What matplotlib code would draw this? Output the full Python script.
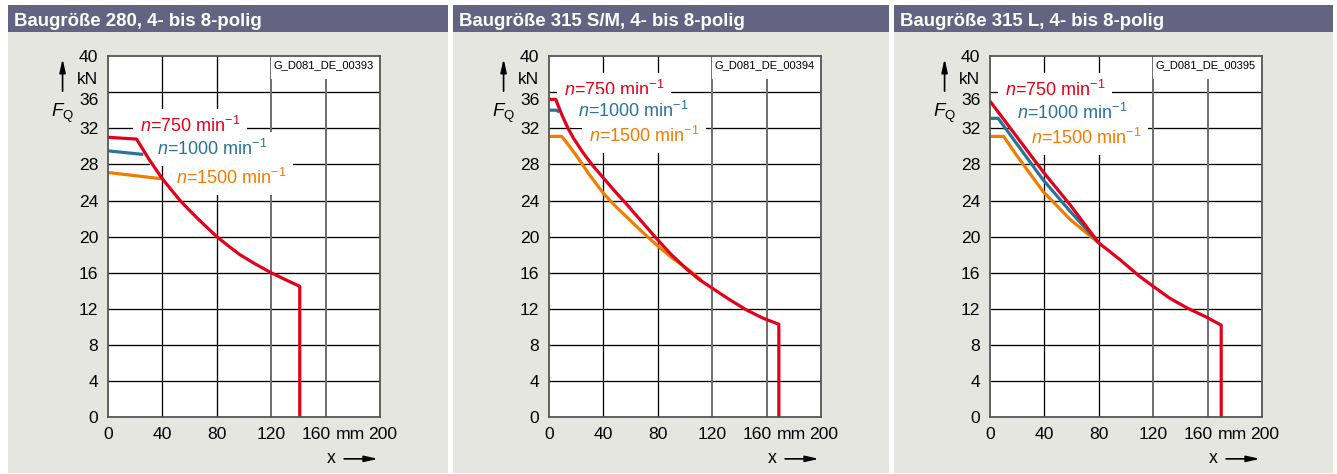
import matplotlib.pyplot as plt
from matplotlib.patches import Rectangle
from matplotlib.transforms import ScaledTranslation

plt.rcParams['font.family'] = ['Liberation Sans', 'DejaVu Sans']
plt.rcParams['mathtext.fontset'] = 'custom'
plt.rcParams['mathtext.rm'] = 'Liberation Sans'
plt.rcParams['mathtext.it'] = 'Liberation Sans:italic'

# permissible radial force F_Q over distance x, per frame size and speed
titles = ['Baugröße 280, 4- bis 8-polig',
          'Baugröße 315 S/M, 4- bis 8-polig',
          'Baugröße 315 L, 4- bis 8-polig']
drawing_ids = ['G_D081_DE_00393', 'G_D081_DE_00394', 'G_D081_DE_00395']
speeds = [750, 1000, 1500]

x_ticks = [0, 40, 80, 120, 160, 200]
y_ticks = [0, 4, 8, 12, 16, 20, 24, 28, 32, 36, 40]

# frame size 280
fs280_750_x = [0, 21, 30, 40, 47, 53, 60, 68, 80, 90, 97, 108, 120, 131, 141, 141]
fs280_750_y = [31.0, 30.8, 28.6, 26.4, 25.1, 24.0, 22.9, 21.7, 20.0, 18.8, 18.0, 17.0, 16.0, 15.2, 14.5, 0]
fs280_1000_x = [0, 26]
fs280_1000_y = [29.5, 29.1]
fs280_1500_x = [0, 40]
fs280_1500_y = [27.1, 26.4]

# frame size 315 S/M
fs315sm_750_x = [0, 5, 7, 10, 14, 18, 25, 32, 40, 48, 57, 68, 79, 90, 102, 111, 120, 132, 145, 157, 169, 169]
fs315sm_750_y = [35.2, 35.2, 34.4, 33.3, 32.0, 30.9, 29.3, 27.9, 26.5, 25.1, 23.6, 21.7, 19.8, 18.0, 16.3, 15.2,
                 14.3, 13.1, 11.9, 11.0, 10.3, 0]
fs315sm_1000_x = [0, 5.5, 7.5]
fs315sm_1000_y = [34.0, 34.0, 33.8]
fs315sm_1500_x = [0, 9.3, 13, 20, 30, 40, 50, 57, 68, 79, 90, 102, 112]
fs315sm_1500_y = [31.1, 31.1, 30.4, 29.0, 26.8, 24.8, 23.2, 22.2, 20.6, 19.1, 17.7, 16.4, 15.2]

# frame size 315 L
fs315l_750_x = [0, 39, 59, 80, 86, 96, 110, 120, 132, 145, 159, 170, 170]
fs315l_750_y = [35.0, 27.2, 23.5, 19.3, 18.6, 17.4, 15.6, 14.5, 13.2, 12.1, 11.1, 10.2, 0]
fs315l_1000_x = [0, 6, 39, 59, 80]
fs315l_1000_y = [33.1, 33.1, 26.3, 22.8, 19.3]
fs315l_1500_x = [0, 10, 19.6, 39, 59, 71, 80]
fs315l_1500_y = [31.1, 31.1, 29.0, 25.0, 21.9, 20.4, 19.3]

curves = [
    [(fs280_750_x, fs280_750_y), (fs280_1000_x, fs280_1000_y), (fs280_1500_x, fs280_1500_y)],
    [(fs315sm_750_x, fs315sm_750_y), (fs315sm_1000_x, fs315sm_1000_y), (fs315sm_1500_x, fs315sm_1500_y)],
    [(fs315l_750_x, fs315l_750_y), (fs315l_1000_x, fs315l_1000_y), (fs315l_1500_x, fs315l_1500_y)],
]

# where the speed labels sit (left edge x, centre y) in data units
label_pos = [
    [(23.5, 32.3), (35.8, 29.7), (49.8, 26.5)],
    [(11, 36.2), (21.6, 33.95), (29.4, 31.1)],
    [(11, 36.2), (19.6, 33.7), (29.9, 30.9)],
]

colors = ['#e2001a', '#2a7399', '#f07d00']
header_color = '#646482'
panel_color = '#e6e6e1'

W, H = 1337, 474
fig = plt.figure(figsize=(W / 100, H / 100), dpi=100)
fig.patch.set_facecolor('white')

panel_left = [8, 453, 894]
panel_right = [447.5, 888.5, 1333]
ax_left = [108, 549, 990]
ax_w, ax_top, ax_bottom = 272, 56, 417.3


def fx(px):
    return px / W


def fy(py):
    return 1 - py / H


def nudge(label, dx_px, dy_px):
    label.set_transform(label.get_transform()
                        + ScaledTranslation(dx_px / 100, dy_px / 100, fig.dpi_scale_trans))


for i in range(3):
    pl, pr = panel_left[i], panel_right[i]
    # grey panel and title bar, kept behind the axes
    fig.add_artist(Rectangle((fx(pl), fy(473)), fx(pr - pl), (473 - 32) / H,
                             transform=fig.transFigure, facecolor=panel_color,
                             edgecolor='none', zorder=-2))
    fig.add_artist(Rectangle((fx(pl), fy(32)), fx(pr - pl), (32 - 5) / H,
                             transform=fig.transFigure, facecolor=header_color,
                             edgecolor='none', zorder=-2))
    fig.text(fx(pl + 6), fy(26), titles[i], color='white', fontsize=13.4,
             fontweight='bold', va='baseline', ha='left')

    ax = fig.add_axes([fx(ax_left[i]), fy(ax_bottom), fx(ax_w), (ax_bottom - ax_top) / H])
    ax.set_facecolor('white')
    ax.set_xlim(0, 200)
    ax.set_ylim(0, 40)

    # grid drawn by hand so the unit labels get no line of their own
    for v in y_ticks[1:-1]:
        ax.axhline(v, color='black', lw=0.95, zorder=1)
    for v in x_ticks[1:-1]:
        if v >= 120:
            ax.axvline(v, color='#6e6e6e', lw=1.4, zorder=1)
        else:
            ax.axvline(v, color='black', lw=0.95, zorder=1)

    for s in ax.spines.values():
        s.set_color('#555555')
        s.set_linewidth(1.3)
        s.set_zorder(6)

    ax.set_xticks(x_ticks + [178], [str(v) for v in x_ticks] + ['mm'])
    ax.set_yticks(y_ticks + [37.55], [str(v) for v in y_ticks] + ['kN'])
    ax.tick_params(length=0, labelsize=12.6, pad=7)
    # make room for the units next to 160 and 36
    xlabels = ax.get_xticklabels()
    nudge(xlabels[4], -9, 0)
    nudge(xlabels[5], 3, 0)
    ylabels = ax.get_yticklabels()
    nudge(ylabels[9], 0, -7)

    # drawing number box in the top right corner
    ax.add_patch(Rectangle((0.6, 0.935), 0.395, 0.063, transform=ax.transAxes,
                           facecolor='white', edgecolor='none', zorder=3))
    ax.text(0.61, 0.975, drawing_ids[i], transform=ax.transAxes, fontsize=8,
            ha='left', va='center', zorder=4)

    for k in (2, 1, 0):
        xs, ys = curves[i][k]
        ax.plot(xs, ys, color=colors[k], lw=2.3, zorder=5,
                solid_capstyle='butt', solid_joinstyle='round', clip_on=False)

    for k in range(3):
        lx, ly = label_pos[i][k]
        ax.text(lx, ly, r'$n$=%d min$^{-1}$' % speeds[k], color=colors[k],
                fontsize=13, ha='left', va='center', zorder=4,
                bbox=dict(facecolor='white', edgecolor='none', pad=5))

    # axis captions with arrows
    ax.annotate('', xy=(-0.167, 1.0), xytext=(-0.167, 0.895), xycoords='axes fraction',
                arrowprops=dict(arrowstyle='-|>,head_length=0.8,head_width=0.18',
                                color='black', lw=1.2))
    ax.text(-0.169, 0.842, r'$F_\mathrm{Q}$', transform=ax.transAxes, fontsize=13.5,
            ha='center', va='center')
    ax.text(0.822, -0.115, 'x', transform=ax.transAxes, fontsize=12.8,
            ha='center', va='center')
    ax.annotate('', xy=(1.003, -0.115), xytext=(0.858, -0.115), xycoords='axes fraction',
                arrowprops=dict(arrowstyle='-|>,head_length=0.8,head_width=0.18',
                                color='black', lw=1.2))

fig.savefig('out.png', dpi=100, facecolor='white')
